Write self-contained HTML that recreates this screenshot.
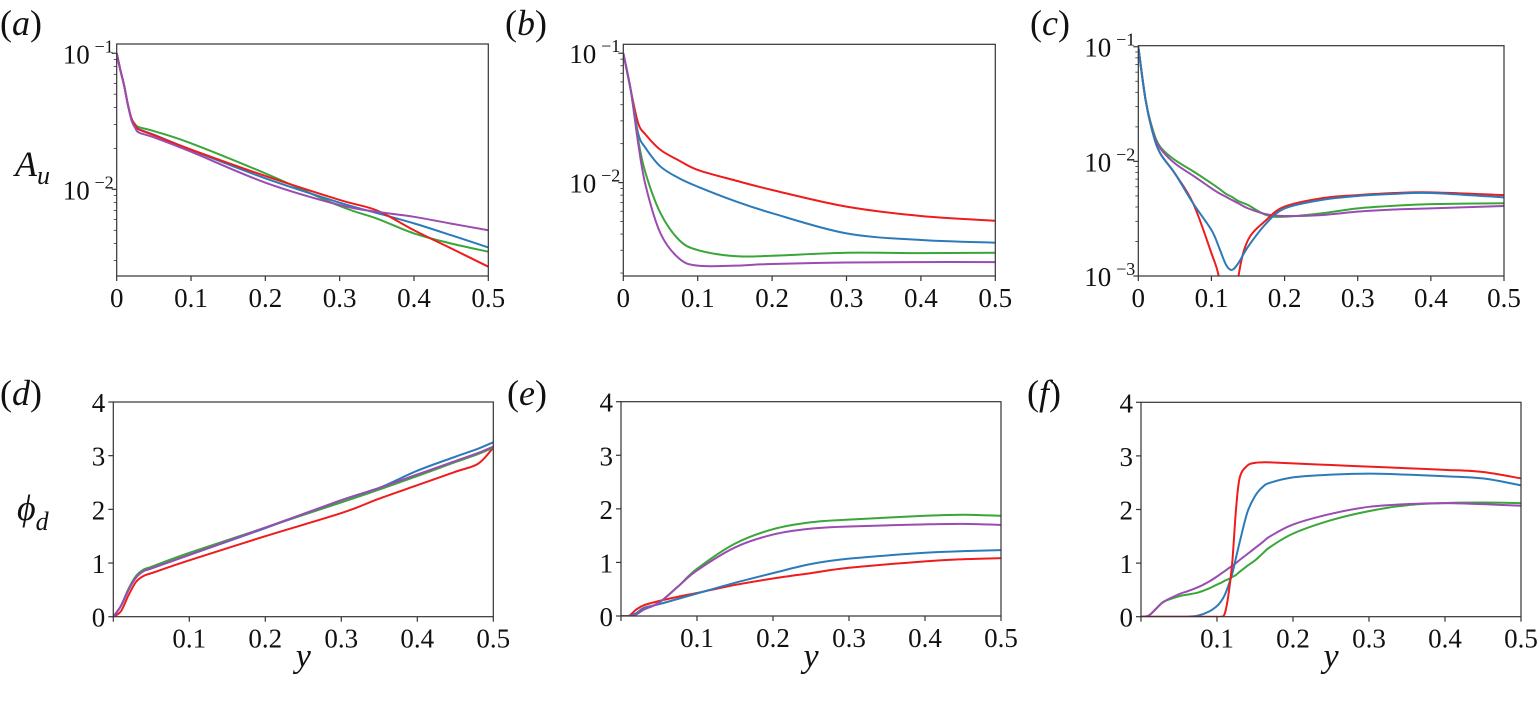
<!DOCTYPE html>
<html><head><meta charset="utf-8">
<style>
body{margin:0;background:#fff;}
svg{display:block;}
svg text{font-family:"Liberation Serif","DejaVu Serif","Noto Serif CJK SC",serif;}
</style></head>
<body>
<svg id="fig" width="1537" height="705" viewBox="0 0 1537 705"></svg>
<script>
// ---- data ----
const aX=[0,0.005,0.01,0.015,0.02,0.025,0.03,0.05,0.1,0.2,0.3,0.35,0.4,0.45,0.5];
const aRed=[0.1,0.075,0.058,0.042,0.033,0.0295,0.0275,0.025,0.0196,0.01253,0.00835,0.0070,0.0050,0.00368,0.0027];
const aGreen=[0.1,0.075,0.058,0.042,0.033,0.030,0.0286,0.0268,0.0218,0.0131,0.00754,0.0061,0.00474,0.0040,0.00348];
const aBlue=[0.1,0.075,0.058,0.042,0.033,0.0293,0.0276,0.0252,0.0195,0.01205,0.00798,0.0067,0.00562,0.0046,0.00374];
const aPurple=[0.1,0.075,0.058,0.042,0.032,0.0282,0.0261,0.0241,0.0189,0.0112,0.00767,0.00684,0.00628,0.0056,0.0050];

const bX=[0,0.01,0.02,0.03,0.05,0.075,0.1,0.15,0.2,0.3,0.4,0.5];
const bRed=[0.1,0.052,0.0288,0.0235,0.0179,0.0148,0.01253,0.0104,0.00877,0.00652,0.00552,0.00507];
const bBlue=[0.1,0.052,0.024,0.0185,0.0133,0.0108,0.0093,0.0072,0.0058,0.00405,0.0036,0.00343];
const bGreen=[0.1,0.052,0.0214,0.0118,0.0058,0.0036,0.00301,0.0027,0.00272,0.00287,0.00285,0.00287];
const bPurple=[0.1,0.052,0.0201,0.0095,0.00405,0.00259,0.00228,0.00228,0.00235,0.00241,0.00243,0.00243];

const cX=[0,0.01,0.02,0.03,0.05,0.075,0.1,0.11,0.12,0.128,0.137,0.15,0.175,0.2,0.25,0.3,0.35,0.4,0.5];
const cRed=[0.1,0.0343,0.01754,0.01175,0.00785,0.0043,0.00158,0.001,0.0004,0.0003,0.001,0.00206,0.00308,0.00403,0.00476,0.00508,0.0053,0.00537,0.00508];
const cBlue=[0.1,0.0343,0.01754,0.01175,0.00785,0.0043,0.00252,0.0018,0.00125,0.00113,0.0013,0.0018,0.00288,0.00388,0.0046,0.00499,0.0052,0.0053,0.00485];
const cGreen=[0.1,0.0343,0.01875,0.0134,0.01028,0.0082,0.00643,0.0058,0.0052,0.0049,0.0045,0.00416,0.0034,0.00329,0.00352,0.00389,0.0041,0.00424,0.00431];
const cPurple=[0.1,0.0343,0.0181,0.013,0.0096,0.0075,0.00582,0.0053,0.0049,0.0046,0.0043,0.00389,0.00346,0.00334,0.0034,0.00364,0.0038,0.00389,0.00408];

const dX=[0,0.01,0.02,0.03,0.04,0.05,0.1,0.2,0.3,0.35,0.4,0.45,0.48,0.5];
const dRed=[0,0.1,0.4,0.65,0.76,0.81,1.05,1.5,1.93,2.2,2.45,2.7,2.85,3.15];
const dBlue=[0,0.2,0.5,0.73,0.85,0.9,1.15,1.65,2.17,2.4,2.72,2.98,3.13,3.25];
const dGreen=[0,0.2,0.52,0.76,0.88,0.93,1.19,1.66,2.13,2.37,2.62,2.88,3.03,3.15];
const dPurple=[0,0.2,0.5,0.73,0.85,0.9,1.15,1.66,2.17,2.4,2.65,2.9,3.05,3.17];

const eX=[0,0.01,0.02,0.03,0.05,0.075,0.1,0.15,0.2,0.25,0.3,0.4,0.45,0.5];
const eRed=[0,0,0.12,0.2,0.28,0.36,0.43,0.58,0.7,0.8,0.9,1.02,1.06,1.08];
const eBlue=[0,0,0.05,0.15,0.22,0.32,0.42,0.62,0.8,0.97,1.07,1.18,1.21,1.23];
const eGreen=[0,0,0.03,0.12,0.25,0.55,0.88,1.35,1.62,1.75,1.8,1.87,1.89,1.87];
const ePurple=[0,0,0.03,0.12,0.25,0.55,0.85,1.28,1.52,1.63,1.67,1.71,1.72,1.7];

const fX=[0,0.01,0.02,0.03,0.05,0.06,0.075,0.09,0.1,0.105,0.11,0.115,0.12,0.125,0.13,0.14,0.15,0.16,0.17,0.2,0.25,0.3,0.35,0.4,0.45,0.5];
const fRed=[0,0,0,0,0,0,0,0,0,0,0.05,0.4,1.0,2.0,2.6,2.82,2.87,2.88,2.88,2.86,2.83,2.8,2.77,2.74,2.7,2.58];
const fBlue=[0,0,0,0,0,0,0.02,0.1,0.2,0.28,0.4,0.58,0.8,1.1,1.4,1.95,2.25,2.42,2.5,2.6,2.65,2.67,2.65,2.62,2.58,2.45];
const fGreen=[0,0.02,0.15,0.28,0.38,0.41,0.45,0.53,0.6,0.63,0.67,0.7,0.74,0.78,0.84,0.95,1.05,1.18,1.3,1.55,1.8,1.97,2.08,2.12,2.13,2.12];
const fPurple=[0,0.02,0.15,0.28,0.42,0.47,0.55,0.66,0.75,0.8,0.85,0.9,0.95,1.0,1.06,1.17,1.28,1.39,1.5,1.72,1.92,2.05,2.1,2.12,2.1,2.07];

const xTickLabels=["0","0.1","0.2","0.3","0.4","0.5"];
const xTickVals=[0,0.1,0.2,0.3,0.4,0.5];
const linTickVals=[0,1,2,3,4];
const COLORS={red:"#ee1c1c",blue:"#2b7bba",green:"#3aa63a",purple:"#9a4cb0"};

const NS="http://www.w3.org/2000/svg";
const svg=document.getElementById('fig');
function mk(tag,attrs,parent){const e=document.createElementNS(NS,tag);for(const k in attrs)e.setAttribute(k,attrs[k]);(parent||svg).appendChild(e);return e;}

function smoothPath(pts){
  let d="M"+pts[0][0].toFixed(2)+","+pts[0][1].toFixed(2);
  for(let i=0;i<pts.length-1;i++){
    const p0=pts[Math.max(i-1,0)],p1=pts[i],p2=pts[i+1],p3=pts[Math.min(i+2,pts.length-1)];
    const c1=[p1[0]+(p2[0]-p0[0])/6,p1[1]+(p2[1]-p0[1])/6];
    const c2=[p2[0]-(p3[0]-p1[0])/6,p2[1]-(p3[1]-p1[1])/6];
    d+=" C"+c1[0].toFixed(2)+","+c1[1].toFixed(2)+" "+c2[0].toFixed(2)+","+c2[1].toFixed(2)+" "+p2[0].toFixed(2)+","+p2[1].toFixed(2);
  }
  return d;
}

function panel(cfg){
  const g=mk('g',{});
  
  
  const {L,R,T,B}=cfg;
  const sx=v=>L+(v-0)/(0.5)*(R-L);
  let sy;
  if(cfg.log){const lt=cfg.lTop,lb=cfg.lBot;sy=v=>T+(lt-Math.log10(v))/(lt-lb)*(B-T);}
  else sy=v=>B-v/4*(B-T);
  const cid='clip-'+cfg.id;
  const cp=mk('clipPath',{id:cid},g);mk('rect',{x:L,y:T,width:R-L,height:B-T},cp);
  const sg=mk('g',{'clip-path':'url(#'+cid+')'},g);
  cfg.series.forEach(s=>{
    const pts=cfg.x.map((xv,i)=>[sx(xv),sy(Math.max(s.v[i],1e-6))]);
    const p=mk('path',{d:smoothPath(pts),fill:'none',stroke:COLORS[s.c],'stroke-width':2},sg);
    
    
  });
  const fr=mk('rect',{x:L,y:T,width:R-L,height:B-T,fill:'none',stroke:'#333','stroke-width':1.2},g);
  
  
  xTickVals.forEach((v,i)=>{
    const x=sx(v);
    mk('line',{x1:x,x2:x,y1:B,y2:B+5,stroke:'#333','stroke-width':1.2},g);
    if(!cfg.skip0||i>0){
      const t=mk('text',{x:x,y:B+31,'font-size':27,'text-anchor':'middle',fill:'#111'},g);
      t.textContent=xTickLabels[i];
      
      
    }
  });
  if(cfg.log){
    for(let e=Math.floor(cfg.lBot);e<=Math.ceil(cfg.lTop);e++){
      for(let m=1;m<10;m++){
        const lv=e+Math.log10(m);
        if(lv>cfg.lTop+1e-6||lv<cfg.lBot-1e-6)continue;
        const y=sy(Math.pow(10,lv));
        mk('line',{x1:L,x2:L-(m===1?5:3),y1:y,y2:y,stroke:'#333','stroke-width':m===1?1.2:0.8},g);
        if(m===1){
          const t=mk('text',{x:L-27,y:y+10,'font-size':27,'text-anchor':'end',fill:'#111'},g);
          t.textContent='10';
          
          
          const s=mk('text',{x:L-3,y:y-1,'font-size':18,'text-anchor':'end',fill:'#111'},g);
          s.textContent='\u2212'+(-e);
          
          
        }
      }
    }
  } else {
    linTickVals.forEach(v=>{
      const y=sy(v);
      mk('line',{x1:L,x2:L-5,y1:y,y2:y,stroke:'#333','stroke-width':1.2},g);
      const t=mk('text',{x:L-8,y:y+10,'font-size':27,'text-anchor':'end',fill:'#111'},g);
      t.textContent=String(v);
      
      
    });
  }
  const pl=mk('text',{x:cfg.lx,y:cfg.ly,'font-size':36,fill:'#111'},g);
  pl.innerHTML='(<tspan font-style="italic">'+cfg.id+'</tspan>)';
  
  
  if(cfg.xlabel){
    const t=mk('text',{x:(L+R)/2,y:667,'font-size':34,'font-style':'italic','text-anchor':'middle',fill:'#111'},g);
    t.textContent='y';
    
    
  }
}

panel({id:'a',name:'panel-a',L:116.7,R:488.3,T:44,B:276,log:true,lTop:-0.932,lBot:-2.637,x:aX,lx:0,ly:35,
  series:[{c:'green',v:aGreen},{c:'blue',v:aBlue},{c:'red',v:aRed},{c:'purple',v:aPurple}]});
panel({id:'b',name:'panel-b',L:623.3,R:995.3,T:44.3,B:276,log:true,lTop:-0.931,lBot:-2.722,x:bX,lx:505,ly:35,
  series:[{c:'red',v:bRed},{c:'blue',v:bBlue},{c:'green',v:bGreen},{c:'purple',v:bPurple}]});
panel({id:'c',name:'panel-c',L:1138.3,R:1504,T:45.7,B:276,log:true,lTop:-0.991,lBot:-3,x:cX,lx:1030,ly:35,
  series:[{c:'green',v:cGreen},{c:'purple',v:cPurple},{c:'red',v:cRed},{c:'blue',v:cBlue}]});
panel({id:'d',name:'panel-d',L:113.3,R:493.3,T:402,B:616.7,log:false,x:dX,lx:0,ly:405,skip0:true,xlabel:true,
  series:[{c:'red',v:dRed},{c:'green',v:dGreen},{c:'blue',v:dBlue},{c:'purple',v:dPurple}]});
panel({id:'e',name:'panel-e',L:621,R:1001,T:401.7,B:616,log:false,x:eX,lx:507,ly:405,skip0:true,xlabel:true,
  series:[{c:'red',v:eRed},{c:'blue',v:eBlue},{c:'green',v:eGreen},{c:'purple',v:ePurple}]});
panel({id:'f',name:'panel-f',L:1141,R:1521,T:402.3,B:616.7,log:false,x:fX,lx:1027,ly:405,skip0:true,xlabel:true,
  series:[{c:'green',v:fGreen},{c:'purple',v:fPurple},{c:'blue',v:fBlue},{c:'red',v:fRed}]});

const yt1=mk('text',{x:15,y:176,'font-size':36,'font-style':'italic',fill:'#111'});
yt1.innerHTML='A<tspan font-size="26" dy="8">u</tspan>';


const yt2=mk('text',{x:17,y:520,'font-size':36,'font-style':'italic',fill:'#111'});
yt2.innerHTML='\u03D5<tspan font-size="26" dy="10">d</tspan>';


</script>
</body></html>
